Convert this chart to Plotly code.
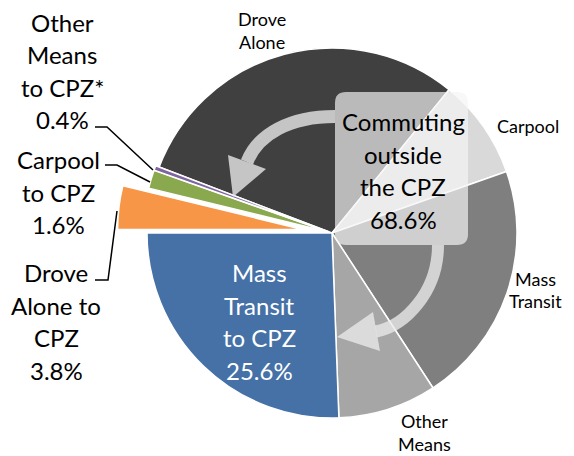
import plotly.graph_objects as go

W, H = 574, 456

# ---- data ----
labels = ["Drove Alone", "Carpool", "Mass Transit", "Other Means",
          "Mass Transit to CPZ", "Drove Alone to CPZ", "Carpool to CPZ",
          "Other Means to CPZ*"]
values = [30.1, 8.7, 21.2, 8.6, 25.6, 3.8, 1.6, 0.4]
colors = ["#404040", "#d9d9d9", "#7f7f7f", "#a6a6a6",
          "#4571a7", "#f79646", "#8aa84e", "#8064a2"]
pulls = [0, 0, 0, 0, 0, 0.16, 0.02, 0.02]
group_lines = ["Commuting", "outside", "the CPZ"]
outside_share = sum(values[:4])


def px(x):
    return x / W


def py(y):
    return 1 - y / H


# pie geometry (pixels)
cx, cy, r = 332, 233, 185
half = r * (1 + max(pulls))

fig = go.Figure(go.Pie(
    labels=labels, values=values, sort=False, direction="clockwise",
    rotation=290.9, pull=pulls, textinfo="none", hoverinfo="label+percent",
    marker=dict(colors=colors, line=dict(color="white", width=1.5)),
    domain=dict(x=[px(cx - half), px(cx + half)], y=[py(cy + half), py(cy - half)]),
))

FONT = "Lato"
big = dict(family=FONT, size=24, color="black")
small = dict(family=FONT, size=18, color="black")


def pct(v):
    return f"{v:.1f}%"


# (lines, x center, first-line y, line step, font)
blocks = [
    (["Other", "Means", "to CPZ*", pct(values[7])], 62, 22.5, 32.3, big),
    (["Carpool", "to CPZ", pct(values[6])], 58, 159.5, 32.5, big),
    (["Drove", "Alone to", "CPZ", pct(values[5])], 56, 272.5, 32.7, big),
    (["Mass", "Transit", "to CPZ", pct(values[4])], 259, 272.5, 32.7, dict(big, color="white")),
    (group_lines + [pct(outside_share)], 403, 121.5, 32.7, big),
    (["Drove", "Alone"], 262, 18.5, 23, small),
    (["Carpool"], 528, 125.5, 23, small),
    (["Mass", "Transit"], 535, 278.5, 22, small),
    (["Other", "Means"], 424, 420.5, 23, small),
]

annotations = []
for lines, x, y0, step, f in blocks:
    for i, t in enumerate(lines):
        annotations.append(dict(text=t, x=px(x), y=py(y0 + i * step), xref="paper", yref="paper",
                                xanchor="center", yanchor="middle", showarrow=False,
                                font=f, align="center"))


def P(x, y):
    return f"{px(x):.5f},{py(y):.5f}"


def path(points, close=False):
    s = "M " + " L ".join(P(x, y) for x, y in points)
    return s + (" Z" if close else "")


def bez(p0, p1, p2, p3):
    return f"M {P(*p0)} C {P(*p1)} {P(*p2)} {P(*p3)}"


shapes = []
# rounded semi-transparent box
bx0, by0, bx1, by1, rr = 335, 92, 468, 245, 11
box = (f"M {P(bx0 + rr, by0)} L {P(bx1 - rr, by0)} Q {P(bx1, by0)} {P(bx1, by0 + rr)} "
       f"L {P(bx1, by1 - rr)} Q {P(bx1, by1)} {P(bx1 - rr, by1)} "
       f"L {P(bx0 + rr, by1)} Q {P(bx0, by1)} {P(bx0, by1 - rr)} "
       f"L {P(bx0, by0 + rr)} Q {P(bx0, by0)} {P(bx0 + rr, by0)} Z")
shapes.append(dict(type="path", path=box, xref="paper", yref="paper",
                   fillcolor="rgba(245,245,245,0.68)", line=dict(width=0)))

arrow_col = "rgba(235,235,235,0.78)"
# arrow 1 (to upper-left)
shapes.append(dict(type="path", path=bez((335, 116.5), (290, 116.5), (258, 134), (247, 162)),
                   xref="paper", yref="paper", line=dict(color=arrow_col, width=13)))
shapes.append(dict(type="path", path=path([(228, 155), (266, 169), (233, 197)], close=True),
                   xref="paper", yref="paper", fillcolor=arrow_col, line=dict(width=0)))
# arrow 2 (to lower-left)
shapes.append(dict(type="path", path=bez((438, 245), (438, 292), (405, 326), (376, 331.5)),
                   xref="paper", yref="paper", line=dict(color=arrow_col, width=12)))
shapes.append(dict(type="path", path=path([(373, 312), (380, 351), (337, 337)], close=True),
                   xref="paper", yref="paper", fillcolor=arrow_col, line=dict(width=0)))

# leader lines
lead = dict(color="black", width=1.5)
shapes.append(dict(type="path", path=path([(95, 127), (107, 127), (153, 170)]),
                   xref="paper", yref="paper", line=lead))
shapes.append(dict(type="path", path=path([(105, 165), (117, 165), (150, 182)]),
                   xref="paper", yref="paper", line=lead))
shapes.append(dict(type="path", path=path([(95, 280), (108, 280), (117, 211)]),
                   xref="paper", yref="paper", line=lead))

fig.update_layout(width=W, height=H, margin=dict(l=0, r=0, t=0, b=0),
                  paper_bgcolor="white", plot_bgcolor="white", showlegend=False,
                  annotations=annotations, shapes=shapes)

fig.write_html("out.html", config={"displayModeBar": False},
               post_script="document.body.style.margin='0';")
